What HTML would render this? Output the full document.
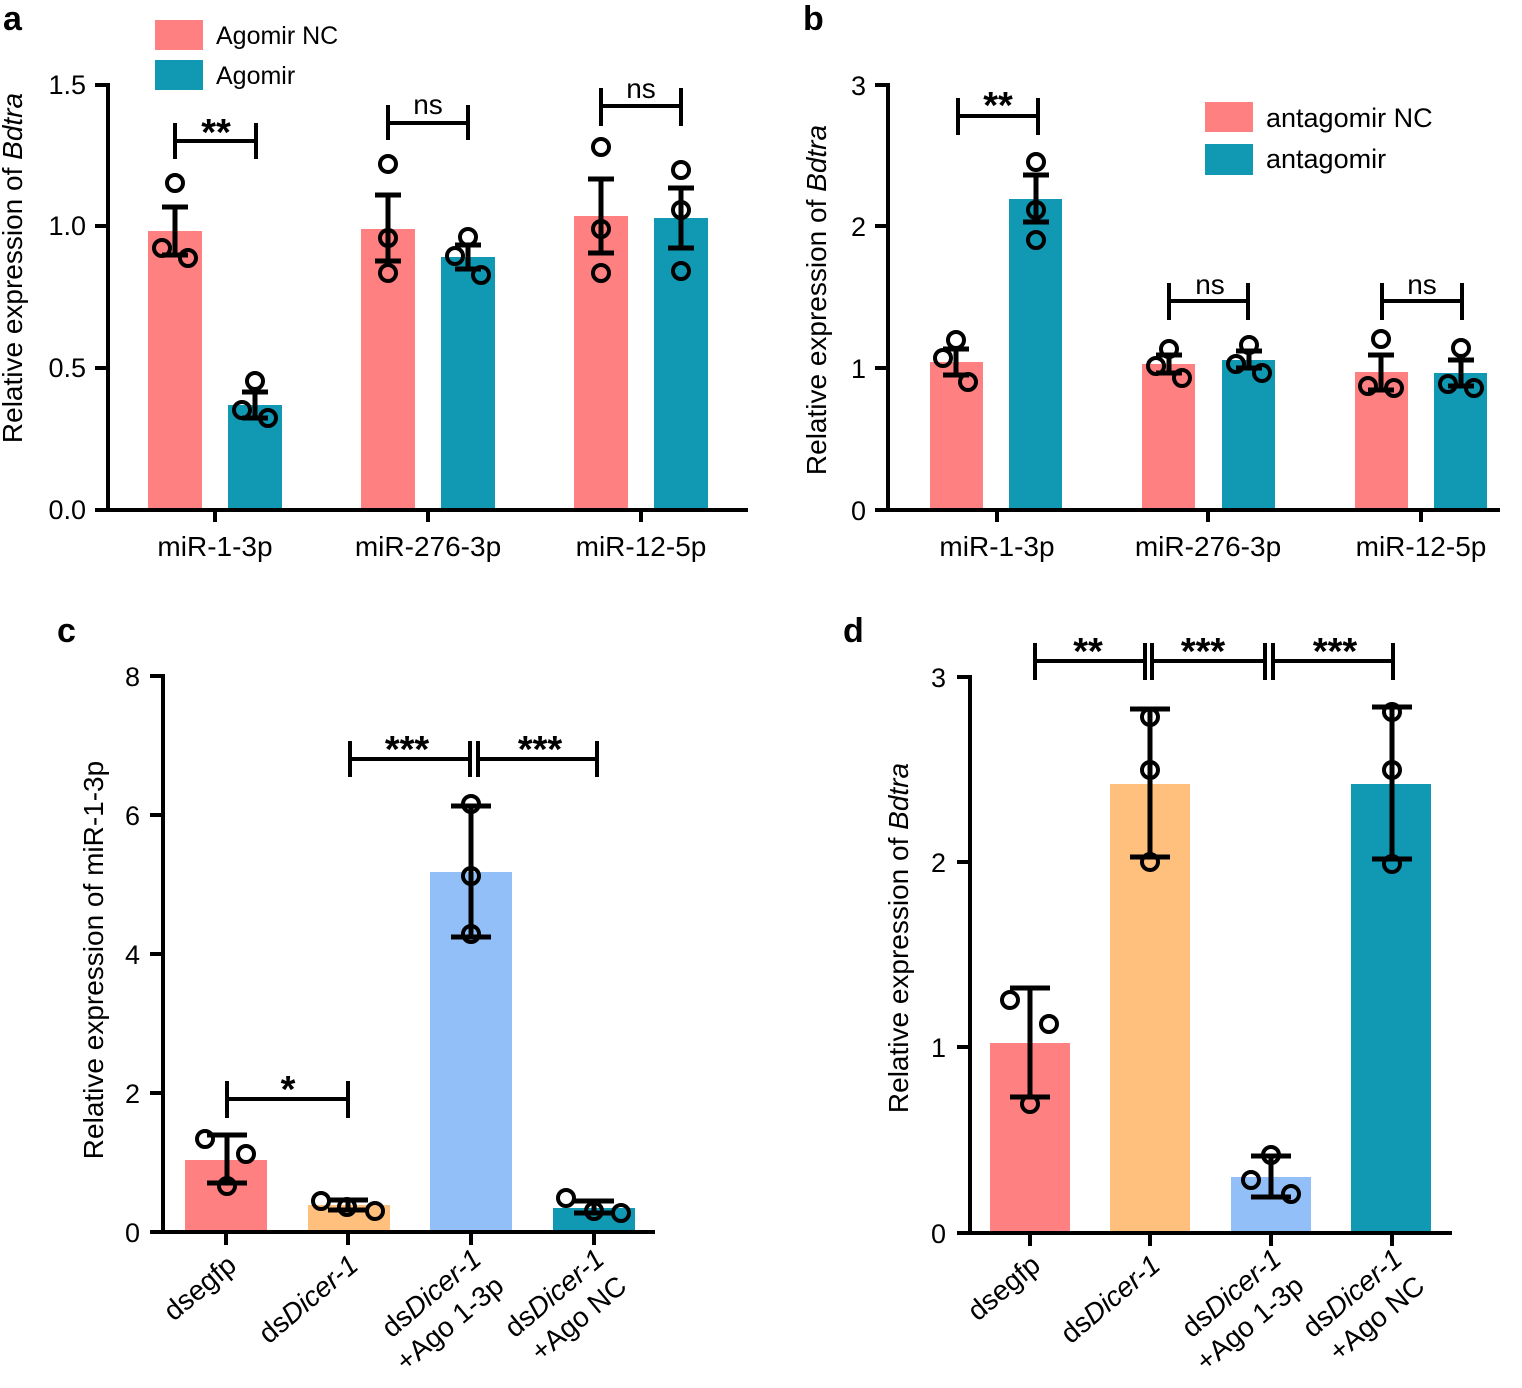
<!DOCTYPE html>
<html><head><meta charset="utf-8"><style>
html,body{margin:0;padding:0;background:#fff}
svg{display:block;font-family:"Liberation Sans",Arial,sans-serif}
.ax{stroke:#000;stroke-width:4;fill:none}
.eb{stroke:#000;stroke-width:5;fill:none}
.pt{stroke:#000;stroke-width:4;fill:none}
.sg{stroke:#000;stroke-width:4;fill:none}
.tk{font-size:27px;text-anchor:end}
.xl{font-size:28px;text-anchor:middle}
.ns{font-size:28px;text-anchor:middle}
.st{font-size:38px;font-weight:bold;text-anchor:middle}
.lt{font-weight:bold;font-size:34px}
.yt{font-size:28px;text-anchor:middle}
</style></head><body>
<svg width="1522" height="1388" viewBox="0 0 1522 1388">
<!-- Panel a -->
<text class="lt" x="3" y="30">a</text>
<rect x="155" y="20" width="48" height="30" fill="#FF8080"/>
<rect x="155" y="60" width="48" height="30" fill="#1199B4"/>
<text x="216" y="44" font-size="25">Agomir NC</text>
<text x="216" y="84" font-size="25">Agomir</text>
<rect x="148" y="231" width="54" height="279" fill="#FF8080"/>
<rect x="228" y="405" width="54" height="105" fill="#1199B4"/>
<rect x="361" y="229" width="54" height="281" fill="#FF8080"/>
<rect x="441" y="257" width="54" height="253" fill="#1199B4"/>
<rect x="574" y="216" width="54" height="294" fill="#FF8080"/>
<rect x="654" y="218" width="54" height="292" fill="#1199B4"/>
<path class="ax" d="M95,85H108V510H748M95,226H108M95,368H108M95,510H108M215,510V522M428,510V522M641,510V522"/>
<text class="tk" x="86" y="94">1.5</text><text class="tk" x="86" y="235">1.0</text><text class="tk" x="86" y="377">0.5</text><text class="tk" x="86" y="519">0.0</text>
<text class="xl" x="215" y="556">miR-1-3p</text><text class="xl" x="428" y="556">miR-276-3p</text><text class="xl" x="641" y="556">miR-12-5p</text>
<text class="yt" transform="translate(22,268) rotate(-90)">Relative expression of <tspan font-style="italic">Bdtra</tspan></text>
<path class="eb" d="M175,207V255M162,207H188M162,255H188 M255,392V418M242,392H268M242,418H268 M388,195V261M375,195H401M375,261H401 M468,245V269M455,245H481M455,269H481 M601,179V253M588,179H614M588,253H614 M681,188V248M668,188H694M668,248H694"/>
<g class="pt"><circle cx="175" cy="183" r="8"/><circle cx="162" cy="248" r="8"/><circle cx="188" cy="258" r="8"/><circle cx="255" cy="381" r="8"/><circle cx="242" cy="410" r="8"/><circle cx="268" cy="418" r="8"/><circle cx="388" cy="164" r="8"/><circle cx="388" cy="238" r="8"/><circle cx="388" cy="273" r="8"/><circle cx="468" cy="237" r="8"/><circle cx="455" cy="256" r="8"/><circle cx="481" cy="275" r="8"/><circle cx="601" cy="147" r="8"/><circle cx="601" cy="229" r="8"/><circle cx="601" cy="273" r="8"/><circle cx="681" cy="170" r="8"/><circle cx="681" cy="210" r="8"/><circle cx="681" cy="271" r="8"/></g>
<path class="sg" d="M175,123V159M175,141H256M256,123V159 M388,105V140M388,123H468M468,105V140 M601,88V126M601,106H681M681,88V126"/>
<text class="st" x="216" y="145">**</text><text class="ns" x="428" y="114">ns</text><text class="ns" x="641" y="98">ns</text>

<!-- Panel b -->
<text class="lt" x="803" y="30">b</text>
<rect x="1205" y="102" width="48" height="30" fill="#FF8080"/>
<rect x="1205" y="144" width="48" height="31" fill="#1199B4"/>
<text x="1266" y="127" font-size="27">antagomir NC</text>
<text x="1266" y="168" font-size="27">antagomir</text>
<rect x="930" y="362" width="53" height="148" fill="#FF8080"/>
<rect x="1009" y="199" width="53" height="311" fill="#1199B4"/>
<rect x="1142" y="364" width="53" height="146" fill="#FF8080"/>
<rect x="1222" y="360" width="53" height="150" fill="#1199B4"/>
<rect x="1355" y="372" width="53" height="138" fill="#FF8080"/>
<rect x="1434" y="373" width="53" height="137" fill="#1199B4"/>
<path class="ax" d="M875,85H888V510H1500M875,226H888M875,368H888M875,510H888M997,510V522M1208,510V522M1421,510V522"/>
<text class="tk" x="866" y="95">3</text><text class="tk" x="866" y="236">2</text><text class="tk" x="866" y="378">1</text><text class="tk" x="866" y="520">0</text>
<text class="xl" x="997" y="556">miR-1-3p</text><text class="xl" x="1208" y="556">miR-276-3p</text><text class="xl" x="1421" y="556">miR-12-5p</text>
<text class="yt" transform="translate(826,300) rotate(-90)">Relative expression of <tspan font-style="italic">Bdtra</tspan></text>
<path class="eb" d="M956,349V375M943,349H969M943,375H969 M1036,175V222M1023,175H1049M1023,222H1049 M1169,355V373M1156,355H1182M1156,373H1182 M1249,351V368M1236,351H1262M1236,368H1262 M1381,355V390M1368,355H1394M1368,390H1394 M1461,360V386M1448,360H1474M1448,386H1474"/>
<g class="pt"><circle cx="956" cy="340" r="8"/><circle cx="943" cy="358" r="8"/><circle cx="968" cy="382" r="8"/><circle cx="1036" cy="162" r="8"/><circle cx="1036" cy="210" r="8"/><circle cx="1036" cy="240" r="8"/><circle cx="1169" cy="349" r="8"/><circle cx="1156" cy="366" r="8"/><circle cx="1182" cy="378" r="8"/><circle cx="1249" cy="345" r="8"/><circle cx="1236" cy="364" r="8"/><circle cx="1262" cy="373" r="8"/><circle cx="1381" cy="339" r="8"/><circle cx="1368" cy="386" r="8"/><circle cx="1394" cy="388" r="8"/><circle cx="1461" cy="348" r="8"/><circle cx="1448" cy="384" r="8"/><circle cx="1474" cy="388" r="8"/></g>
<path class="sg" d="M958,98V135M958,116H1038M1038,98V135 M1169,283V320M1169,301H1248M1248,283V320 M1382,283V320M1382,301H1462M1462,283V320"/>
<text class="st" x="998" y="118">**</text><text class="ns" x="1210" y="294">ns</text><text class="ns" x="1422" y="294">ns</text>

<!-- Panel c -->
<text class="lt" x="57" y="642">c</text>
<rect x="185" y="1160" width="82" height="72" fill="#FF8080"/>
<rect x="308" y="1205" width="82" height="27" fill="#FFC07E"/>
<rect x="430" y="872" width="82" height="360" fill="#93BFF8"/>
<rect x="553" y="1208" width="82" height="24" fill="#1199B4"/>
<path class="ax" d="M150,676H163V1232H655M150,815H163M150,954H163M150,1093H163M150,1232H163M226,1232V1245M348,1232V1245M471,1232V1245M594,1232V1245"/>
<text class="tk" x="140" y="686">8</text><text class="tk" x="140" y="825">6</text><text class="tk" x="140" y="964">4</text><text class="tk" x="140" y="1103">2</text><text class="tk" x="140" y="1242">0</text>
<text class="yt" transform="translate(103,960) rotate(-90)">Relative expression of miR-1-3p</text>
<path class="eb" d="M227,1135V1183M207,1135H247M207,1183H247 M348,1200V1210M328,1200H368M328,1210H368 M471,806V937M451,806H491M451,937H491 M594,1201V1213M574,1201H614M574,1213H614"/>
<g class="pt"><circle cx="205" cy="1139" r="8"/><circle cx="246" cy="1154" r="8"/><circle cx="227" cy="1186" r="8"/><circle cx="321" cy="1201" r="8"/><circle cx="347" cy="1207" r="8"/><circle cx="375" cy="1211" r="8"/><circle cx="471" cy="804" r="8"/><circle cx="471" cy="876" r="8"/><circle cx="471" cy="934" r="8"/><circle cx="566" cy="1198" r="8"/><circle cx="594" cy="1211" r="8"/><circle cx="621" cy="1213" r="8"/></g>
<path class="sg" d="M227,1081V1118M227,1099H348M348,1081V1118 M350,741V777M350,759H470M470,741V777 M478,741V777M478,759H597M597,741V777"/>
<text class="st" x="288" y="1102">*</text><text class="st" x="407" y="762">***</text><text class="st" x="540" y="762">***</text>
<g font-size="28" text-anchor="end">
<text transform="translate(238,1268) rotate(-40)">dsegfp</text>
<text transform="translate(360,1268) rotate(-40)">ds<tspan font-style="italic">Dicer-1</tspan></text>
<text transform="translate(483,1262) rotate(-40)"><tspan x="0">ds<tspan font-style="italic">Dicer-1</tspan></tspan><tspan x="0" dy="35">+Ago 1-3p</tspan></text>
<text transform="translate(606,1262) rotate(-40)"><tspan x="0">ds<tspan font-style="italic">Dicer-1</tspan></tspan><tspan x="0" dy="35">+Ago NC</tspan></text>
</g>

<!-- Panel d -->
<text class="lt" x="843" y="642">d</text>
<rect x="990" y="1043" width="80" height="190" fill="#FF8080"/>
<rect x="1110" y="784" width="80" height="449" fill="#FFC07E"/>
<rect x="1231" y="1177" width="80" height="56" fill="#93BFF8"/>
<rect x="1351" y="784" width="80" height="449" fill="#1199B4"/>
<path class="ax" d="M957,677H970V1233H1452M957,862H970M957,1047H970M957,1233H970M1030,1233V1246M1150,1233V1246M1271,1233V1246M1392,1233V1246"/>
<text class="tk" x="946" y="687">3</text><text class="tk" x="946" y="872">2</text><text class="tk" x="946" y="1057">1</text><text class="tk" x="946" y="1243">0</text>
<text class="yt" transform="translate(908,938) rotate(-90)">Relative expression of <tspan font-style="italic">Bdtra</tspan></text>
<path class="eb" d="M1030,988V1097M1010,988H1050M1010,1097H1050 M1150,709V857M1130,709H1170M1130,857H1170 M1271,1156V1197M1251,1156H1291M1251,1197H1291 M1392,707V859M1372,707H1412M1372,859H1412"/>
<g class="pt"><circle cx="1010" cy="1000" r="8"/><circle cx="1049" cy="1024" r="8"/><circle cx="1030" cy="1104" r="8"/><circle cx="1150" cy="717" r="8"/><circle cx="1150" cy="770" r="8"/><circle cx="1150" cy="862" r="8"/><circle cx="1271" cy="1155" r="8"/><circle cx="1251" cy="1180" r="8"/><circle cx="1291" cy="1194" r="8"/><circle cx="1392" cy="712" r="8"/><circle cx="1392" cy="770" r="8"/><circle cx="1392" cy="864" r="8"/></g>
<path class="sg" d="M1035,643V680M1035,661H1145M1145,643V680 M1152,643V680M1152,661H1265M1265,643V680 M1273,643V680M1273,661H1393M1393,643V680"/>
<text class="st" x="1088" y="664">**</text><text class="st" x="1203" y="664">***</text><text class="st" x="1335" y="664">***</text>
<g font-size="28" text-anchor="end">
<text transform="translate(1042,1268) rotate(-40)">dsegfp</text>
<text transform="translate(1162,1268) rotate(-40)">ds<tspan font-style="italic">Dicer-1</tspan></text>
<text transform="translate(1283,1262) rotate(-40)"><tspan x="0">ds<tspan font-style="italic">Dicer-1</tspan></tspan><tspan x="0" dy="35">+Ago 1-3p</tspan></text>
<text transform="translate(1404,1262) rotate(-40)"><tspan x="0">ds<tspan font-style="italic">Dicer-1</tspan></tspan><tspan x="0" dy="35">+Ago NC</tspan></text>
</g>
</svg>
</body></html>
